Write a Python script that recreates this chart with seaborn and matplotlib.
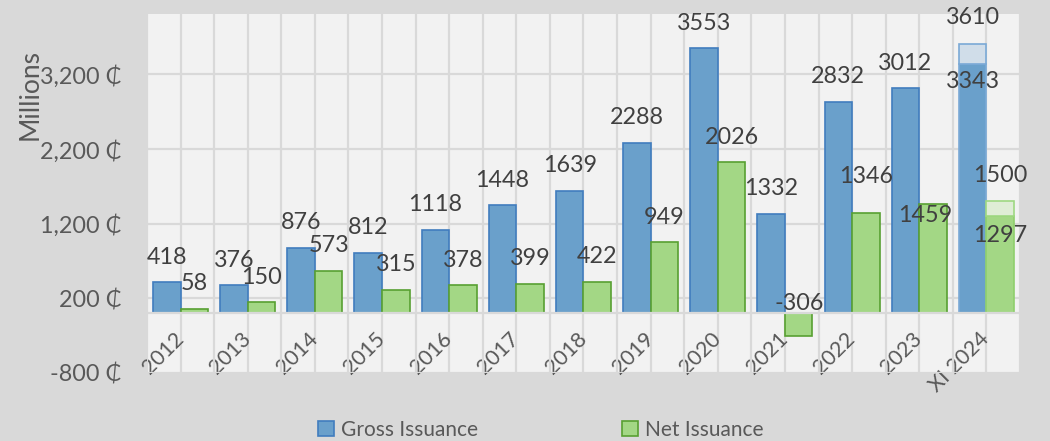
#!/usr/bin/env python3

import pandas as pd
import matplotlib
matplotlib.use('Agg')
import matplotlib.pyplot as plt
import seaborn as sns
from matplotlib.ticker import FuncFormatter, MultipleLocator
from matplotlib.patches import Patch

years = ['2012', '2013', '2014', '2015', '2016', '2017', '2018',
         '2019', '2020', '2021', '2022', '2023', 'XI 2024']
gross = [418, 376, 876, 812, 1118, 1448, 1639, 2288, 3553, 1332, 2832, 3012, 3343]
net = [58, 150, 573, 315, 378, 399, 422, 949, 2026, -306, 1346, 1459, 1297]
# XI 2024: target values drawn as the lighter part on top of the bars
gross_target_2024 = 3610
net_target_2024 = 1500

series_names = ['Gross Issuance', 'Net Issuance']

blue = '#6aa0cb'
blue_edge = '#417dbe'
green = '#a3d785'
green_edge = '#58a032'
label_col = '#404040'
axis_col = '#595959'
fs = 16.8

plt.rcParams['font.family'] = ['Lato', 'DejaVu Sans']
plt.rcParams['font.size'] = fs

df = pd.DataFrame({
    'year': years * 2,
    'series': [series_names[0]] * len(years) + [series_names[1]] * len(years),
    'value': gross + net,
})

fig = plt.figure(figsize=(10.5, 4.41), dpi=100, facecolor='#d9d9d9')
ax = fig.add_axes([0.14, 0.1542, 0.8314, 0.8141])
ax.set_facecolor('#f2f2f2')

sns.barplot(
    data=df, x='year', y='value', hue='series',
    order=years, hue_order=series_names,
    palette={series_names[0]: blue, series_names[1]: green},
    width=0.82, saturation=1, linewidth=1.2, legend=False, ax=ax
)

gross_bars = list(ax.containers[0])
net_bars = list(ax.containers[1])
for p in gross_bars:
    p.set_edgecolor(blue_edge)
for p in net_bars:
    p.set_edgecolor(green_edge)
# последний столбец (XI 2024) с более светлой обводкой
gross_bars[-1].set_edgecolor('#7aa9d6')
net_bars[-1].set_edgecolor('#8fcf6c')

# светлые "добавки" до целевых значений
pg = gross_bars[-1]
ax.bar(pg.get_x() + pg.get_width() / 2, gross_target_2024 - gross[-1],
       bottom=gross[-1], width=pg.get_width(), color='#d0dde9',
       edgecolor='#7aa9d6', linewidth=1.2)
pn = net_bars[-1]
ax.bar(pn.get_x() + pn.get_width() / 2, net_target_2024 - net[-1],
       bottom=net[-1], width=pn.get_width(), color='#dfedd6',
       edgecolor='#9fd882', linewidth=1.2)

# axes (spine position first: it resets the ticks)
for s in ['top', 'right', 'left']:
    ax.spines[s].set_visible(False)
ax.spines['bottom'].set_position(('data', 0))
ax.spines['bottom'].set_color('#d9d9d9')
ax.spines['bottom'].set_linewidth(1.6)

ax.set_ylim(-800, 4010)
ax.set_xlim(-0.5, len(years) - 0.5)
ax.yaxis.set_major_locator(MultipleLocator(1000, offset=200))
ax.yaxis.set_major_formatter(FuncFormatter(lambda v, pos: f'{v:,.0f} \u20b5'))
ax.set_xticks(range(len(years)))
ax.set_xticks([i - 0.5 for i in range(len(years) + 1)], minor=True)
ax.set_xticklabels(years, rotation=45, ha='right', va='center',
                   rotation_mode='anchor', color=axis_col, fontsize=15.5)

ax.set_axisbelow(True)
ax.grid(axis='y', color='#d9d9d9', linewidth=1.6)
ax.grid(axis='x', which='both', color='#d9d9d9', linewidth=1.6)

ax.tick_params(axis='x', which='both', length=0, pad=16)
ax.tick_params(axis='y', length=0, pad=18, labelcolor=axis_col)

ax.set_xlabel('')
ax.set_ylabel('Millions', color=axis_col, fontsize=19)
ax.yaxis.set_label_coords(-0.119, 0.775)

# data labels, offset in pixels from top of bar (positive = above)
gross_offsets = {12: -18}
net_offsets = {10: 36, 11: -11, 12: -19}


def put_labels(bars, values, offsets, shift=None):
    for i, (p, v) in enumerate(zip(bars, values)):
        xc = p.get_x() + p.get_width() / 2
        if shift and i in shift:
            xc += shift[i]
        top = max(v, 0)
        off = offsets.get(i, 25 if v >= 0 else 10)
        ax.annotate(f'{v}', (xc, top), xytext=(0, off * 0.72),
                    textcoords='offset points', ha='center', va='center',
                    color=label_col, fontsize=fs)


put_labels(gross_bars, gross, gross_offsets)
put_labels(net_bars, net, net_offsets, shift={11: -0.12})
ax.annotate(f'{gross_target_2024}', (pg.get_x() + pg.get_width() / 2, gross_target_2024),
            xytext=(0, 26 * 0.72), textcoords='offset points', ha='center',
            va='center', color=label_col, fontsize=fs)
ax.annotate(f'{net_target_2024}', (pn.get_x() + pn.get_width() / 2, net_target_2024),
            xytext=(0, 26 * 0.72), textcoords='offset points', ha='center',
            va='center', color=label_col, fontsize=fs)

handles = [Patch(facecolor=blue, edgecolor=blue_edge, linewidth=1.2),
           Patch(facecolor=green, edgecolor=green_edge, linewidth=1.2)]
leg = fig.legend(handles, series_names, loc='center', bbox_to_anchor=(0.515, 0.025),
                 ncol=2, frameon=False, handlelength=0.75, handleheight=0.75,
                 handletextpad=0.35, columnspacing=6.9, fontsize=15)
for t in leg.get_texts():
    t.set_color(axis_col)

fig.savefig('out.png', dpi=100, facecolor=fig.get_facecolor())
plt.close(fig)
